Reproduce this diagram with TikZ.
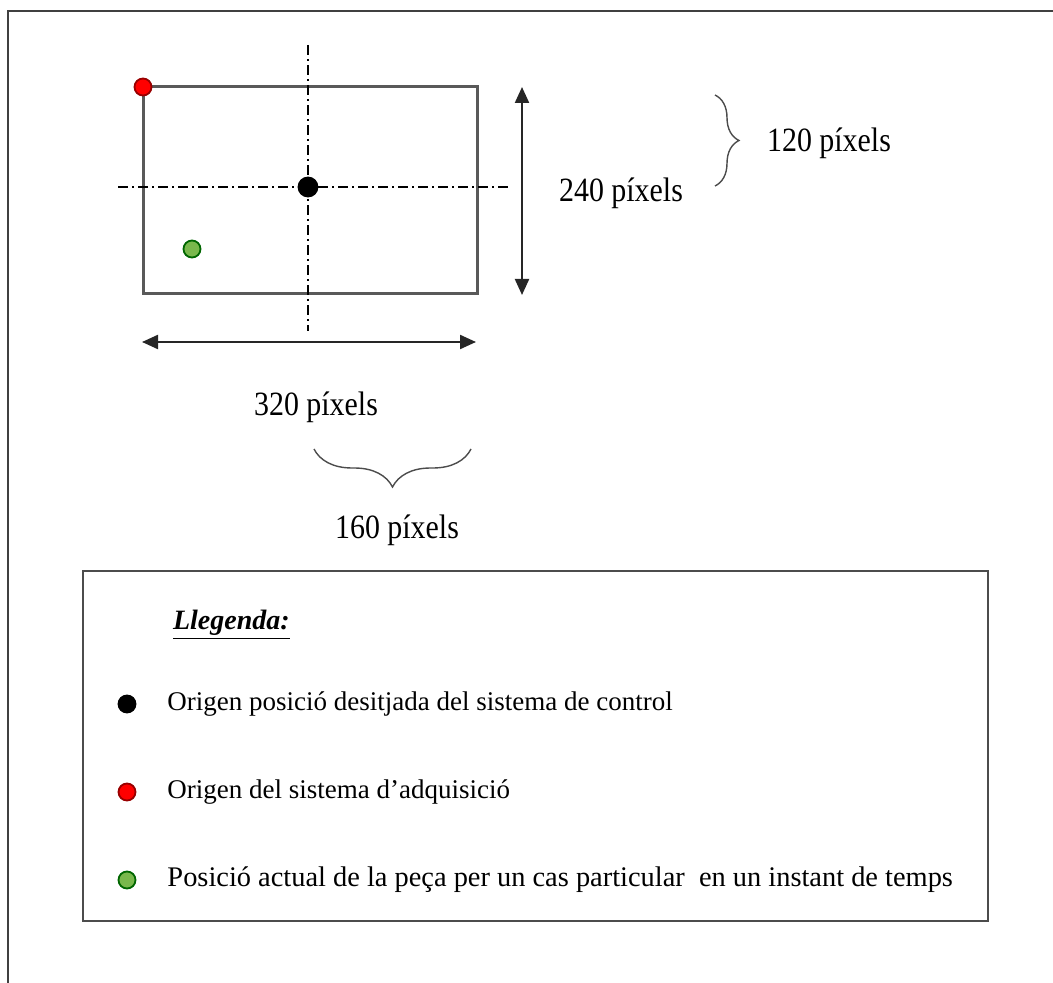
\documentclass[tikz,border=0pt]{standalone}
\usepackage{fontspec}
\setmainfont{Liberation Serif}
\newfontfamily\lblfont[FakeStretch=0.88]{Liberation Serif}
\usetikzlibrary{arrows.meta,positioning,decorations.pathreplacing}

\begin{document}
\begin{tikzpicture}[x=0.5pt,y=-0.5pt,>={Triangle[length=8pt,width=7pt]},node distance=12pt,
 frame/.style={draw=black!75,line width=1pt},
 axis/.style={line width=0.6pt,dash pattern=on 5pt off 2pt on 1pt off 2pt},
 dot/.style={circle,draw,line width=0.9pt,minimum size=8.5pt,inner sep=0pt},
 dim/.style={<->,line width=1.1pt,black!85},
 brc/.style={decorate,decoration={brace,amplitude=#1},line width=0.7pt,black!70},
 lbl/.style={font=\lblfont\fontsize{17}{20}\selectfont},
 item/.style={font=\fontsize{13.5}{16}\selectfont}]
\useasboundingbox (0,0) rectangle (1053,983);
\draw[frame] (8,983) -- (8,11) -- (1053,11);

% image zone
\coordinate (tl) at (143,87);
\coordinate (br) at (477,294);
\draw[draw=black!65,line width=1.5pt] (tl) rectangle (br);
\coordinate (vtop) at (308,45);
\coordinate (vbot) at (308,331);
\coordinate (hl) at (118,187);
\coordinate (hr) at (508,187);
\draw[axis] (vtop)--(vbot);
\draw[axis] (hl)--(hr);
\node[dot,fill=black,minimum size=9.5pt] (centre) at (308,187) {};
\node[dot,draw=red!60!black,fill=red] (orig) at (tl) {};
\node[dot,draw=green!40!black,fill=green!45!lime!60!black!70] (peca) at (192,249) {};

% dimensions
\coordinate (vu) at (522,87);
\coordinate (vd) at (522,295);
\coordinate (hu) at (142,342);
\coordinate (hd) at (476,342);
\draw[dim] (vu)--(vd);
\draw[dim] (hu)--(hd);
\node[lbl] (h240) at (621,193) {240 píxels};
\node[lbl] (w320) at (316,407) {320 píxels};

% braces
\coordinate (b1a) at (715,95);
\coordinate (b1b) at (715,186);
\coordinate (b2a) at (471,449);
\coordinate (b2b) at (314,449);
\draw[brc=12pt] (b1a)--(b1b);
\draw[brc=19pt] (b2a)--(b2b);
\node[lbl] (h120) at (829,143) {120 píxels};
\node[lbl] (w160) at (397,530) {160 píxels};

% legend
\coordinate (la) at (83,571);
\coordinate (lb) at (988,921);
\draw[draw=black!70,line width=1pt] (la) rectangle (lb);
\node[anchor=west,font=\fontsize{14}{16}\selectfont] (title) at (166,625) {\underline{\textbf{\textit{Llegenda:}}}};
\node[dot,fill=black] (ld1) at (127,704) {};
\node[dot,draw=red!60!black,fill=red] (ld2) at (127,792) {};
\node[dot,draw=green!40!black,fill=green!45!lime!60!black!70] (ld3) at (127,880) {};
\node[item,right=of ld1] (t1) {Origen posició desitjada del sistema de control};
\node[item,right=of ld2] (t2) {Origen del sistema d'adquisició};
\node[item,right=of ld3,font=\fontsize{14.2}{16}\selectfont] (t3) {Posició actual de la peça per un cas particular\ \ en un instant de temps};
\end{tikzpicture}
\end{document}
